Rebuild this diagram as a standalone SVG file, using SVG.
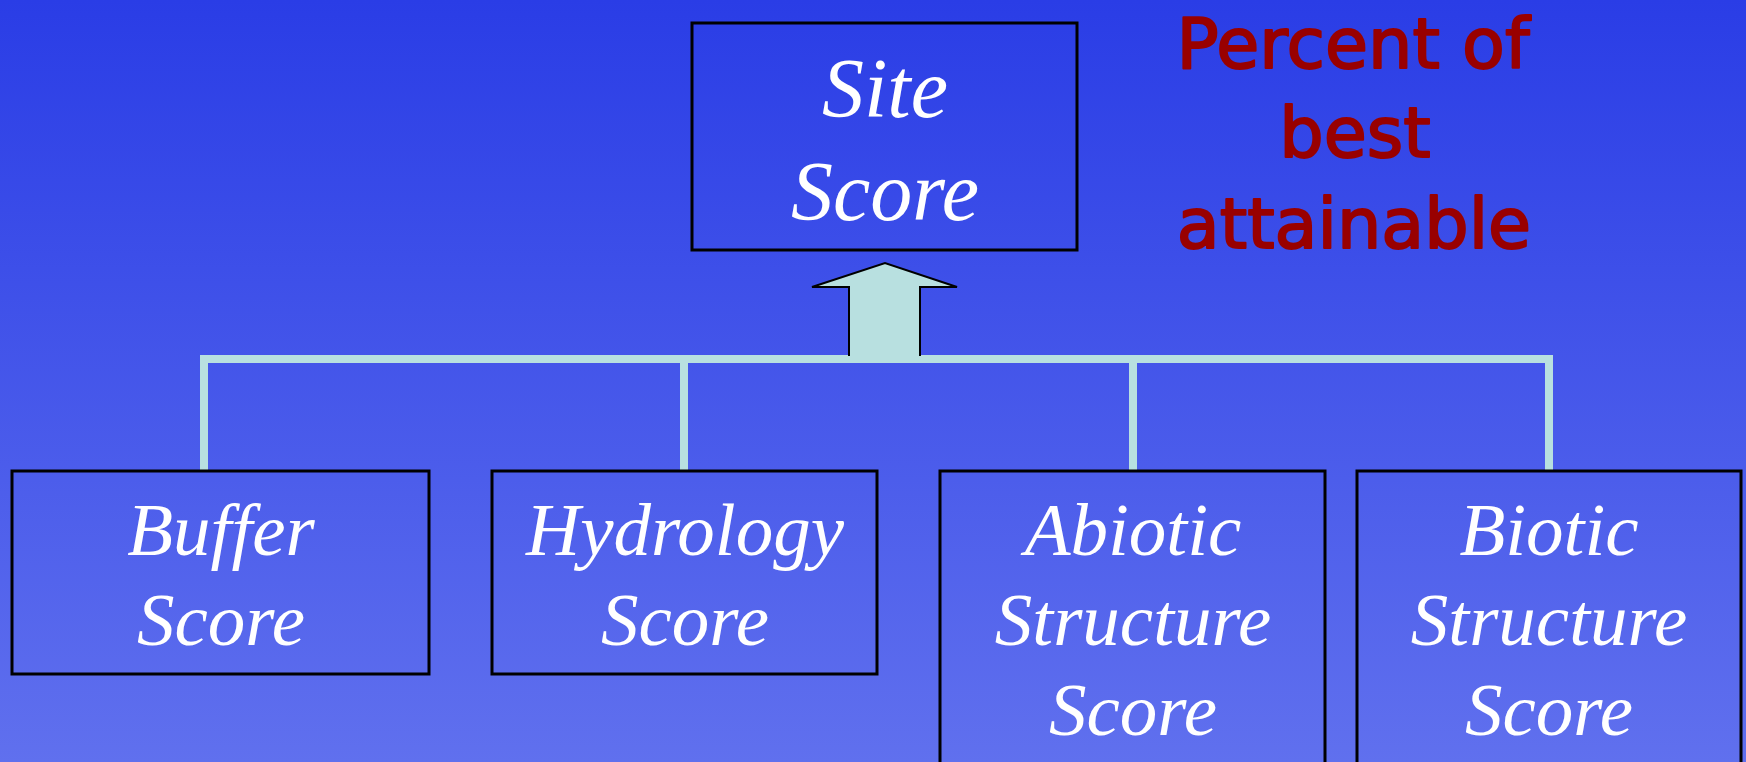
<svg xmlns="http://www.w3.org/2000/svg" width="1746" height="762" viewBox="0 0 1746 762">
<defs>
<linearGradient id="bg" x1="0" y1="0" x2="0" y2="1">
<stop offset="0" stop-color="#2a3de6"/>
<stop offset="1" stop-color="#6070ee"/>
</linearGradient>
</defs>
<style>
.box{fill:none;stroke:#000;stroke-width:3}
.lbl{font-family:"Liberation Serif","Times New Roman",serif;font-style:italic;fill:#fff;text-anchor:middle}
.big{font-size:84px}
.small{font-size:75px}
.con{stroke:#b8e0e0;stroke-width:8;fill:none}
.note{font-family:"DejaVu Sans",sans-serif;font-size:70px;fill:#990000;stroke:#990000;stroke-width:2;stroke-linejoin:round;text-anchor:middle}
</style>
<rect x="0" y="0" width="1746" height="762" fill="url(#bg)"/>
<g id="connectors">
<path class="con" d="M200 359H1553M204 359V472M684 359V472M1133 359V472M1549 359V472"/>
<polygon points="849,355 849,287 812,287 885,263 957,287 920,287 920,355" fill="#b8e0e0" stroke="#000" stroke-width="2"/>
<rect x="850" y="352" width="69" height="6" fill="#b8e0e0"/>
</g>
<g id="site">
<rect class="box" x="692" y="23" width="385" height="227"/>
<text class="lbl big" x="885" y="117">Site</text>
<text class="lbl big" x="885" y="220">Score</text>
</g>
<g id="buffer">
<rect class="box" x="12" y="471" width="417" height="203"/>
<text class="lbl small" x="221" y="555">Buffer</text>
<text class="lbl small" x="221" y="645">Score</text>
</g>
<g id="hydrology">
<rect class="box" x="492" y="471" width="385" height="203"/>
<text class="lbl small" x="685" y="555">Hydrology</text>
<text class="lbl small" x="685" y="645">Score</text>
</g>
<g id="abiotic">
<rect class="box" x="940" y="471" width="385" height="300"/>
<text class="lbl small" x="1133" y="555">Abiotic</text>
<text class="lbl small" x="1133" y="645">Structure</text>
<text class="lbl small" x="1133" y="735">Score</text>
</g>
<g id="biotic">
<rect class="box" x="1357" y="471" width="384" height="300"/>
<text class="lbl small" x="1549" y="555">Biotic</text>
<text class="lbl small" x="1549" y="645">Structure</text>
<text class="lbl small" x="1549" y="735">Score</text>
</g>
<g id="note">
<text class="note" x="1353" y="68">Percent of</text>
<text class="note" x="1355" y="157">best</text>
<text class="note" x="1354" y="248">attainable</text>
</g>
</svg>
